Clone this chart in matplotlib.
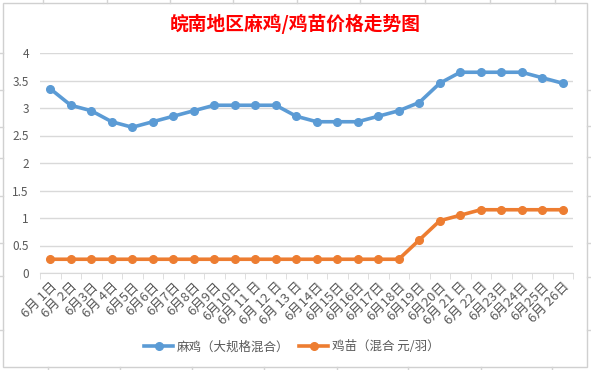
import matplotlib
matplotlib.use("Agg")
import matplotlib.pyplot as plt
from matplotlib.lines import Line2D
from matplotlib.patches import Rectangle

plt.rcParams['font.family'] = ['Noto Sans CJK SC', 'DejaVu Sans']

dates = ["6月 1日", "6月 2日", "6月3日", "6月 4日", "6月5日", "6月6日", "6月7日", "6月8日",
         "6月9日", "6月10日", "6月 11 日", "6月 12 日", "6月 13 日", "6月14日", "6月15日",
         "6月16日", "6月17日", "6月18日", "6月19日", "6月20日", "6月 21 日", "6月 22 日",
         "6月23日", "6月24日", "6月25日", "6月 26日"]
maji = [3.35, 3.05, 2.95, 2.75, 2.65, 2.75, 2.85, 2.95, 3.05, 3.05, 3.05, 3.05, 2.85,
        2.75, 2.75, 2.75, 2.85, 2.95, 3.1, 3.45, 3.65, 3.65, 3.65, 3.65, 3.55, 3.45]
jimiao = [0.25] * 18 + [0.6, 0.95, 1.05, 1.15, 1.15, 1.15, 1.15, 1.15]
yticks = [0, 0.5, 1, 1.5, 2, 2.5, 3, 3.5, 4]
ylabels = ["0", "0.5", "1", "1.5", "2", "2.5", "3", "3.5", "4"]
title = "皖南地区麻鸡/鸡苗价格走势图"
names = ["麻鸡（大规格混合）", "鸡苗（混合 元/羽）"]

W, H = 591, 370
fig = plt.figure(figsize=(W / 100, H / 100), dpi=100)

# spreadsheet cell lines outside chart
gc = '#d4d4d4'
for x in [43, 107, 170, 233, 297, 360, 425, 490, 555]:
    fig.add_artist(Line2D([x / W, x / W], [1, 1 - 3 / H], transform=fig.transFigure, color=gc, lw=1))
for x in [48, 120, 192, 264, 337, 408, 481, 552]:
    fig.add_artist(Line2D([x / W, x / W], [0, 3 / H], transform=fig.transFigure, color=gc, lw=1))
for y in [53, 90, 127, 158, 196, 243, 276, 330]:
    fig.add_artist(Line2D([0, 3 / W], [1 - y / H, 1 - y / H], transform=fig.transFigure, color=gc, lw=1))
for y in [90, 126, 157, 196, 243, 277, 330]:
    fig.add_artist(Line2D([587 / W, 1], [1 - y / H, 1 - y / H], transform=fig.transFigure, color=gc, lw=1))
fig.add_artist(Rectangle((3 / W, 3 / H), 584 / W, 364 / H, transform=fig.transFigure,
                         fill=False, edgecolor='#d0d0d0', lw=1))

ax = fig.add_axes([40 / W, 1 - 273 / H, 533 / W, 220 / H])
x = list(range(len(dates)))
blue = '#5b9bd5'
orange = '#ed7d31'
ax.plot(x, maji, color=blue, lw=2.6, marker='o', ms=5.5, zorder=3)
ax.plot(x, jimiao, color=orange, lw=2.6, marker='o', ms=5.5, zorder=3)

ax.set_xlim(-0.5, len(dates) - 0.5)
ax.set_ylim(0, 4)
ax.set_yticks(yticks)
ax.set_yticklabels(ylabels)
ax.grid(axis='y', color='#d9d9d9', lw=1)
ax.set_axisbelow(True)
for s in ['top', 'right', 'left']:
    ax.spines[s].set_visible(False)
ax.spines['bottom'].set_color('#d9d9d9')
ax.tick_params(axis='y', length=0, labelsize=8.5, labelcolor='#595959', pad=8)

ax.set_xticks([i - 0.5 for i in range(len(dates) + 1)], minor=True)
ax.set_xticks(x)
ax.set_xticklabels(dates, rotation=45, ha='right', va='top', rotation_mode='anchor')
ax.tick_params(axis='x', which='major', length=0, labelsize=9.5, labelcolor='#595959', pad=5)
ax.tick_params(axis='x', which='minor', length=4, color='#d9d9d9', direction='out')

fig.text(295 / W, 1 - 23.5 / H, title, ha='center', va='center', color='#ff0000',
         fontsize=13.5, fontweight='bold')

handles = [Line2D([], [], color=blue, lw=2.6, marker='o', ms=5.5),
           Line2D([], [], color=orange, lw=2.6, marker='o', ms=5.5)]
fig.legend(handles, names, loc='center', bbox_to_anchor=(292 / W, 1 - 347 / H), ncol=2,
           frameon=False, fontsize=9, labelcolor='#595959', handlelength=2.3,
           columnspacing=0.8, handletextpad=0.3)

fig.savefig('out.png', dpi=100)
